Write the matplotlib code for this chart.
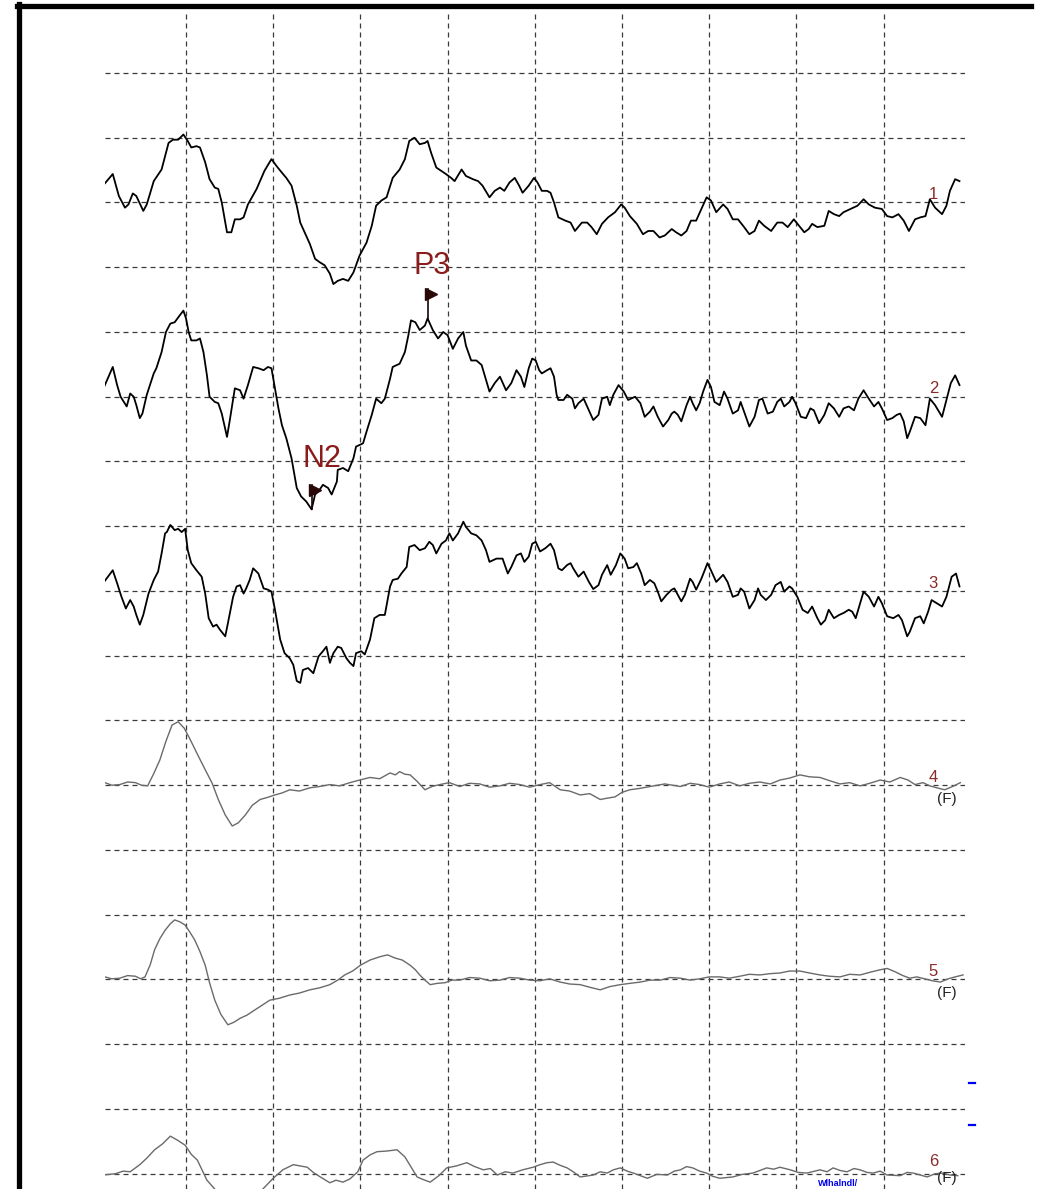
import numpy as np
import matplotlib
matplotlib.use("Agg")
import matplotlib.pyplot as plt
from matplotlib.lines import Line2D

plt.rcParams['font.family'] = ['Liberation Sans Narrow', 'Liberation Sans', 'DejaVu Sans']

# --- data: latency (ms) and amplitude (uV) per channel ---
ch1_t = [-94, -84, -77, -70, -66, -61, -57, -49, -45, -37, -28, -20, -15, -9, -3, 2, 6, 12, 16, 22,
         27, 33, 37, 41, 47, 52, 56, 62, 66, 71, 81, 90, 98, 104, 110, 115, 121, 127, 131, 136,
         142, 148, 153, 159, 165, 169, 174, 180, 186, 192, 199, 207, 213, 218, 224, 230, 237, 245, 251, 256,
         262, 268, 274, 277, 281, 287, 298, 304, 308, 316, 321, 329, 335, 340, 348, 354, 360, 365, 371, 377,
         382, 386,
         393, 399, 403, 408, 414, 418, 422, 427, 435, 441, 446, 454, 460, 465, 471, 477, 484, 492, 499, 503,
         509, 517, 524, 530, 536, 543, 549, 557, 562, 568, 574, 579, 585, 591, 597, 602, 608, 616, 621, 627,
         633, 640, 646, 652, 657, 663, 671, 678, 684, 690, 697, 703, 709, 714, 718, 724, 732, 737, 743, 749,
         754, 762, 770, 777, 783, 790, 798, 804, 810, 817, 823, 829, 836, 842, 848, 853, 859, 867, 872, 876,
         882, 887]
ch1_v = [2.8, 4.4, 1.0, -0.8, -0.3, 1.4, 1.0, -1.3, -0.3, 3.3, 5.1, 9.2, 9.7, 9.7, 10.5, 9.5, 8.5, 8.7, 8.5, 6.2,
         3.6, 2.3, 2.1, 0, -4.6, -4.6, -2.6, -2.6, -2.3, -0.3, 2.1, 4.9, 6.7, 5.6, 4.6, 3.8, 2.6, -0.5, -3.1, -4.6,
         -6.4, -8.7, -9.2, -9.7, -11.0, -12.6, -12.1, -11.8, -12.1, -10.8, -8.2, -6.2, -3.6, -0.5, 0.3, 0.8, 3.8, 5.1, 6.7, 9.5,
         10.0, 9.0, 9.2, 9.5, 7.7, 5.4, 4.4, 3.8, 3.3, 5.1, 4.1, 3.6, 3.3, 2.6, 0.8, 1.8, 2.3, 1.8, 3.1, 3.8,
         2.6, 1.5,
         2.6, 3.8, 3.1, 1.8, 1.8, 1.5, 0, -2.3, -2.8, -3.1, -4.4, -3.1, -3.1, -3.8, -4.9, -3.3, -2.3, -1.5, -0.3, -0.8,
         -2.1, -3.3, -4.9, -4.4, -4.4, -5.4, -5.1, -4.1, -4.6, -5.1, -4.4, -2.8, -2.8, -1.0, 0.8, 0.3, -1.5, -0.3, -1.0, -2.6,
         -2.6, -3.8, -4.9, -4.4, -2.8, -3.6, -4.4, -3.1, -3.1, -3.8, -2.6, -3.6, -4.6, -4.1, -3.3, -3.8, -3.6, -1.3, -1.8, -2.1,
         -1.5, -1.0, -0.5, 0.5, -0.3, -0.8, -1.0, -2.1, -2.3, -1.8, -2.8, -4.4, -2.6, -2.3, -2.1, 0.5, -0.8, -1.8, -0.5, 1.8,
         3.6, 3.3]

ch2_t = [-94, -84, -79, -75, -68, -64, -60, -57, -53, -50, -45, -37, -34, -28, -23, -18, -13, -7, -3, 0,
         3, 6, 12, 16, 20, 24, 27, 33, 37, 41, 47, 50, 56, 62, 66, 71, 77, 83, 89, 94,
         98, 102, 106, 110, 115, 121, 127, 132, 138, 144, 148, 152, 157, 163, 167, 173, 174, 180, 186, 192,
         195, 203, 207, 213, 218, 224, 228, 234, 237, 245, 251, 255, 258, 263, 268, 274, 277, 283, 289, 295,
         300, 306, 312, 318, 321, 327, 333, 339, 348, 354, 360, 367, 373, 379, 384, 388,
         393, 397, 401, 405, 408, 414, 418, 422, 425, 427, 433, 437, 443, 446, 450, 456, 462, 467, 473, 477,
         483, 486, 490, 496, 502, 507, 515, 521, 526, 532, 536, 541, 547, 553, 557, 560, 564, 568, 574, 578,
         581, 585, 589, 593, 598, 602, 606, 612, 617, 621, 627, 633, 636, 640, 646, 652, 657, 661, 667, 673,
         678, 682, 686, 692, 695, 699, 705, 711, 716, 720, 726, 732, 737, 743, 749, 754, 760, 766, 771, 777,
         783, 789, 794, 798, 804, 810, 815, 819, 823, 827, 830, 836, 842, 848, 853, 859, 867, 872, 877, 882,
         887]
ch2_v = [1.5, 4.6, 1.8, 0, -1.5, 0.5, 0, -1.3, -3.3, -2.6, 0.3, 3.6, 4.4, 6.9, 10.0, 11.3, 11.5, 12.6, 13.3, 12.1,
         10.0, 8.7, 8.7, 9.0, 6.9, 3.3, 0, -0.8, -1.0, -2.6, -6.2, -3.8, 1.3, 1.0, -0.3, 1.8, 4.6, 4.4, 4.1, 4.6,
         4.4, 1.3, -1.8, -4.4, -6.4, -9.5, -14.1, -15.4, -16.2, -17.4, -15.1, -14.6, -13.6, -14.1, -15.1, -13.1, -11.3, -11.0, -11.5, -9.5,
         -7.7, -7.2, -5.4, -2.8, -0.3, -1.0, -0.3, 2.8, 4.6, 5.1, 6.9, 9.5, 11.8, 11.5, 10.3, 11.0, 12.1, 10.3, 9.0, 10.0,
         9.5, 7.4, 9.0, 10.0, 7.9, 5.6, 5.6, 4.9, 0.8, 2.1, 3.1, 1.0, 2.1, 4.1, 3.1, 1.5,
         4.4, 5.9, 5.6, 4.1, 3.6, 4.1, 4.4, 3.1, 0.3, -0.5, -0.5, 0.3, -0.3, -1.8, -1.0, -0.3, -2.1, -3.6, -2.8, -0.3,
         0, -1.3, 0.3, 1.8, 0.8, -0.5, 0, -1.0, -3.1, -2.3, -1.5, -3.1, -4.6, -3.6, -2.6, -2.3, -2.8, -3.8, -1.3, 0,
         -1.0, -2.1, -1.0, 0.8, 2.6, 1.5, -0.8, -1.3, 0.8, -0.3, -2.6, -2.1, -0.8, -2.3, -4.6, -3.1, -0.5, -0.3, -2.6, -2.3,
         -0.8, -0.3, -1.5, -0.8, 0, -1.0, -3.1, -3.3, -1.8, -2.1, -4.1, -2.8, -1.0, -1.8, -3.1, -1.8, -1.5, -2.1, -0.3, 1.0,
         -0.3, -1.5, -0.8, -1.8, -3.6, -3.3, -2.8, -2.6, -3.8, -6.4, -5.4, -3.1, -3.3, -4.4, -0.3, -1.3, -3.1, -0.5, 2.1, 3.3,
         1.8]

ch3_t = [-94, -84, -79, -74, -69, -64, -60, -57, -53, -49, -43, -37, -32, -28, -24, -22, -18, -13, -9, -5,
         -1, 2, 6, 12, 18, 22, 26, 31, 35, 39, 45, 48, 54, 58, 62, 66, 69, 73, 77, 83,
         89, 94, 98, 102, 108, 113, 119, 123, 127, 131, 134, 140, 146, 152, 157, 161, 165, 169, 174, 178,
         184, 188, 192, 195, 201, 205, 211, 216, 222, 228, 234, 237, 243, 247, 253, 256, 262, 268, 274, 279,
         283, 287, 293, 298, 302, 306, 312, 318, 321, 327, 333, 339, 344, 348, 356, 363, 369, 373, 379, 384,
         388,
         393, 397, 401, 406, 412, 418, 422, 427, 431, 437, 441, 444, 450, 456, 462, 467, 473, 477, 483, 487,
         493, 498, 503, 507, 513, 517, 522, 526, 532, 537, 541, 545, 551, 557, 560, 564, 568, 572, 578, 581,
         585, 591, 598, 602, 608, 616, 621, 627, 633, 636, 640, 646, 652, 656, 659, 665, 671, 676, 682, 686,
         692, 695, 701, 707, 713, 718, 724, 728, 733, 737, 743, 749, 754, 760, 764, 768, 773, 777, 783, 789,
         794, 798, 804, 811, 817, 821, 827, 830, 836, 842, 846, 851, 855, 861, 867, 872, 878, 883, 887]
ch3_v = [1.4, 3.2, 1.2, -0.9, -2.7, -1.4, -2.4, -3.7, -5.2, -3.7, -0.4, 1.7, 3.0, 5.8, 8.9, 9.1, 10.2, 9.4, 9.6, 9.1,
         9.6, 6.3, 4.3, 3.2, 2.2, -0.4, -4.2, -5.5, -5.2, -6.0, -7.0, -5.0, -0.9, 0.7, 0.9, -0.4, 0.4, 1.7, 3.5, 2.7,
         0.4, 0.2, -0.1, -2.9, -7.5, -9.6, -10.4, -11.4, -13.9, -14.2, -12.2, -11.9, -12.7, -10.1, -9.3, -8.6, -11.1, -9.6, -8.6, -8.8,
         -10.4, -11.1, -11.6, -9.6, -9.3, -9.8, -7.5, -4.2, -3.7, -3.7, 0.7, 1.7, 1.9, 2.7, 3.7, 6.8, 7.1, 6.3, 6.6, 7.6,
         7.1, 5.8, 7.3, 7.8, 8.9, 7.8, 8.9, 10.7, 9.9, 8.9, 8.6, 7.8, 6.3, 4.5, 5.0, 5.0, 2.7, 3.7, 5.5, 5.8,
         4.5,
         5.3, 7.3, 7.6, 6.1, 6.6, 7.3, 6.3, 3.5, 3.2, 4.0, 4.3, 3.5, 2.2, 3.0, 1.4, 0.3, 0.9, 2.5, 4.0, 2.5,
         4.0, 5.8, 5.0, 3.5, 3.7, 4.3, 2.7, 0.9, 1.7, 1.2, -0.1, -1.6, -0.6, 0.2, 0.4, -0.6, -1.6, -0.6, 1.9, 1.4,
         0.2, 1.9, 4.3, 3.2, 1.4, 2.5, 1.4, -0.9, -0.6, 0.4, -0.1, -2.7, -1.4, 0.4, -0.6, -1.4, -0.6, 0.9, 1.4, -0.1,
         0.7, 0.4, -0.9, -2.9, -3.4, -2.4, -4.2, -5.2, -4.5, -2.9, -4.2, -3.7, -3.4, -2.9, -3.2, -4.2, -1.9, -0.1, -0.9, -2.4,
         -0.9, -1.9, -3.9, -4.2, -3.7, -4.5, -7.0, -6.3, -4.2, -3.9, -5.0, -3.2, -1.4, -1.9, -2.4, -0.9, 2.2, 2.7, 0.7]

ch4_t = [-93, -85, -76, -67, -58, -51, -44, -37, -30, -23, -16, -9, -2, 5, 13, 22, 30, 37, 45, 53,
         60, 68, 76, 85, 93, 102, 110, 119, 130, 142, 153, 165, 176, 188, 199, 211, 222, 234, 240, 245,
         251, 257, 265, 274, 282, 291, 302, 314, 325, 337, 348, 360, 371, 383, 394, 406, 417, 429, 440, 452,
         463, 475, 483, 492, 500, 509, 520, 532, 549, 567, 578, 589, 600, 612, 623, 635, 646, 658, 670, 681,
         692, 704, 715, 727, 738, 750, 761, 773, 784, 796, 807, 819, 828, 836, 845, 853, 861, 870, 879, 888]
ch4_v = [0.4, 0.0, 0.1, 0.5, 0.4, 0.0, -0.1, 1.8, 3.9, 6.8, 9.3, 9.8, 8.8, 7.0, 4.8, 2.4, 0.3, -2.2, -4.6, -6.3,
         -5.8, -4.6, -3.1, -2.2, -1.9, -1.5, -1.2, -0.7, -0.9, -0.4, -0.2, 0.1, -0.1, 0.4, 0.8, 1.2, 1.0, 1.9, 1.6, 2.1,
         1.7, 1.6, 0.6, -0.7, -0.2, 0.1, 0.4, -0.2, 0.3, 0.2, -0.3, -0.1, 0.3, 0.1, -0.3, 0.1, 0.4, -0.7, -0.9, -1.5,
         -1.3, -2.2, -2.0, -1.8, -1.1, -0.7, -0.5, -0.2, 0.2, -0.2, 0.3, 0.1, -0.3, 0.2, 0.5, -0.1, 0.3, 0.5, 0.2, 0.8,
         1.1, 1.6, 1.3, 1.2, 0.7, 0.2, 0.4, -0.1, 0.3, 0.8, 0.5, 1.2, 0.8, 0.1, 0.4, -0.1, -0.4, -0.7, -0.2, 0.4]

ch5_t = [-93, -85, -76, -67, -58, -52, -47, -41, -36, -30, -24, -18, -13, -7, -1, 4, 10, 16, 22, 27,
         33, 40, 48, 55, 62, 70, 79, 87, 96, 107, 119, 130, 142, 153, 165, 174, 182, 191, 200, 211,
         222, 231, 240, 248, 257, 263, 268, 274, 280, 288, 297, 305, 314, 325, 337, 348, 360, 371, 383, 394,
         406, 417, 429, 440, 452, 463, 475, 486, 498, 509, 521, 532, 544, 555, 567, 578, 589, 600, 612, 623,
         635, 646, 658, 670, 681, 692, 704, 715, 727, 738, 750, 761, 773, 784, 796, 804, 813, 822, 830, 838,
         847, 856, 865, 874, 882, 891]
ch5_v = [0.4, 0.1, 0.2, 0.6, 0.5, 0.1, 0.4, 2.3, 4.6, 6.3, 7.6, 8.6, 9.2, 8.9, 8.4, 7.4, 6.1, 4.3, 2.2, -0.5,
         -3.2, -5.4, -7.0, -6.6, -6.0, -5.5, -4.7, -4.0, -3.2, -2.9, -2.4, -2.1, -1.6, -1.3, -0.8, -0.1, 0.7, 1.3, 2.2, 3.0,
         3.5, 3.8, 3.3, 3.0, 2.2, 1.5, 0.7, -0.1, -0.8, -0.6, -0.5, -0.1, -0.1, 0.3, 0.2, -0.2, -0.1, 0.3, 0.2, -0.1,
         -0.2, 0.1, -0.4, -0.7, -0.8, -1.2, -1.6, -1.1, -0.8, -0.6, -0.4, -0.1, -0.1, 0.3, 0.2, -0.1, 0.1, 0.4, 0.4, 0.2,
         0.5, 0.8, 0.7, 0.9, 1.0, 1.3, 1.3, 1.0, 0.7, 0.5, 0.4, 0.8, 0.7, 1.1, 1.5, 1.7, 1.2, 0.6, 0.2, 0.4,
         0.1, -0.2, -0.4, 0.1, 0.4, 0.7]

ch6_t = [-95, -81, -72, -64, -53, -45, -36, -27, -18, -10, -1, 6, 13, 24, 39, 50, 62, 73, 85, 100,
         111, 123, 131, 139, 146, 154, 165, 172, 180, 188, 197, 203, 211, 219, 230, 242, 251, 265, 272, 280,
         290, 299, 310, 322, 331, 341, 349, 357, 366, 375, 386, 398, 406, 414, 421, 429, 437, 444, 452, 467,
         475, 483, 490, 498, 506, 513, 521, 529, 540, 552, 560, 567, 574, 581, 589, 597, 604, 612, 627, 638,
         650, 658, 666, 674, 681, 693, 702, 712, 727, 735, 742, 750, 758, 766, 773, 781, 788, 796, 804, 819,
         827, 834, 842, 850, 859, 868, 876, 885]
ch6_v = [-0.2, 0, 0.4, 0.3, 1.4, 2.4, 3.7, 4.6, 5.8, 5.2, 4.4, 3.0, 2.1, -1.0, -3.3, -3.9, -4.1, -3.6, -2.8, -0.7,
         0.6, 1.4, 1.2, 1.0, 0.2, -0.5, -1.4, -1.0, -1.3, -0.8, 0.3, 2.1, 2.9, 3.4, 3.5, 3.7, 2.6, -0.5, -0.9, -1.3,
         -0.3, 0.9, 1.2, 1.7, 1.1, 0.6, 0.8, -0.2, 0.3, 0.1, 0.6, 1.0, 1.4, 1.7, 1.8, 1.3, 0.9, 0.3, -0.5, -0.2,
         0.3, 0.1, 0.6, 0.9, 0.4, 0.1, -0.3, -0.7, -0.1, -0.2, 0.4, 0.6, 1.1, 0.9, 0.4, 0.1, -0.4, -0.7, -0.5, -0.1,
         0.1, 0.5, 0.9, 0.7, 1.0, 0.6, 0.2, 0.1, 0.6, 0.3, 0.9, 0.5, 0.3, 0.8, 0.6, 0.2, 0.1, 0.4, -0.2, -0.3,
         0.2, 0.1, -0.2, -0.5, 0.0, 0.1, -0.2, -0.3]

channel_labels = ['1', '2', '3', '4', '5', '6']
filtered = [False, False, False, True, True, True]
baselines = [-20, -50, -80, -110, -140, -170]   # uV, one channel every 3 grid rows

# peak markers on channel 2
n2_latency, n2_amp = 144, -17.4
p3_latency, p3_amp = 277, 12.1

traces = [(ch1_t, ch1_v), (ch2_t, ch2_v), (ch3_t, ch3_v),
          (ch4_t, ch4_v), (ch5_t, ch5_v), (ch6_t, ch6_v)]

W, H = 1041, 1189
fig = plt.figure(figsize=(W / 100, H / 100), dpi=100)
fig.patch.set_facecolor('white')

# plot area: 105..965 px across, 10 px from top down to the bottom edge
ax = fig.add_axes([105 / W, 0, 860 / W, (H - 10) / H])
ax.set_xlim(-92.9, 893.3)
ax.set_ylim(-172.36, 9.73)
ax.set_xticks(np.arange(0, 801, 100))
ax.set_yticks(-10 * np.arange(18))
ax.tick_params(length=0, labelbottom=False, labelleft=False)
for s in ax.spines.values():
    s.set_visible(False)
ax.grid(True, color='#3a3a3a', linewidth=0.9, linestyle=(0, (4.0, 3.2)))
ax.set_axisbelow(True)

for i, (t, v) in enumerate(traces):
    y = np.array(v) + baselines[i]
    if filtered[i]:
        ax.plot(t, y, color='#6a6a6a', lw=1.0)
    else:
        ax.plot(t, y, color='black', lw=1.3)

# channel numbers
for i, lab in enumerate(channel_labels):
    lift = 1.9 if i == 5 else 1.2
    ax.text(857, baselines[i] + lift, lab, color='#8a2a2a', fontsize=12,
            ha='center', va='center')
    if filtered[i]:
        drop = 0.6 if i == 5 else 2.1
        ax.text(873, baselines[i] - drop, '(F)', color='#222222', fontsize=11,
                ha='center', va='center')

# N2 / P3 flags
b2 = baselines[1]
ax.plot([p3_latency, p3_latency], [b2 + p3_amp, b2 + 16.6], color='#1a0505', lw=1.2)
ax.plot(p3_latency + 3.5, b2 + 15.8, marker='>', color='#2a0808', ms=9)
ax.text(p3_latency + 5, b2 + 20.2, 'P3', color='#8a1c1c', fontsize=22,
        ha='center', va='center')
ax.plot([n2_latency, n2_latency], [n2_amp + b2, b2 - 13.6], color='#1a0505', lw=1.2)
ax.plot(n2_latency + 4, b2 - 14.4, marker='>', color='#2a0808', ms=9)
ax.text(n2_latency + 12, b2 - 9.6, 'N2', color='#8a1c1c', fontsize=22,
        ha='center', va='center')

# blue ticks at the right edge and small blue text at the bottom
for yb in (-156.0, -162.5):
    ax.plot([898, 905], [yb, yb], color='#0000ee', lw=1.6, clip_on=False)
fig.text(818 / W, 1 - 1188 / H, 'Wlhalndl/', color='#0000ee', fontsize=6.5,
         fontweight='bold', va='bottom', ha='left')

# black frame
fig.add_artist(Line2D([19 / W, 19 / W], [0, 1 - 4 / H], color='black', lw=3.8,
                      transform=fig.transFigure))
fig.add_artist(Line2D([17 / W, 1031 / W], [1 - 5.5 / H, 1 - 5.5 / H], color='black', lw=3.8,
                      transform=fig.transFigure))

fig.savefig('out.png', dpi=100)
